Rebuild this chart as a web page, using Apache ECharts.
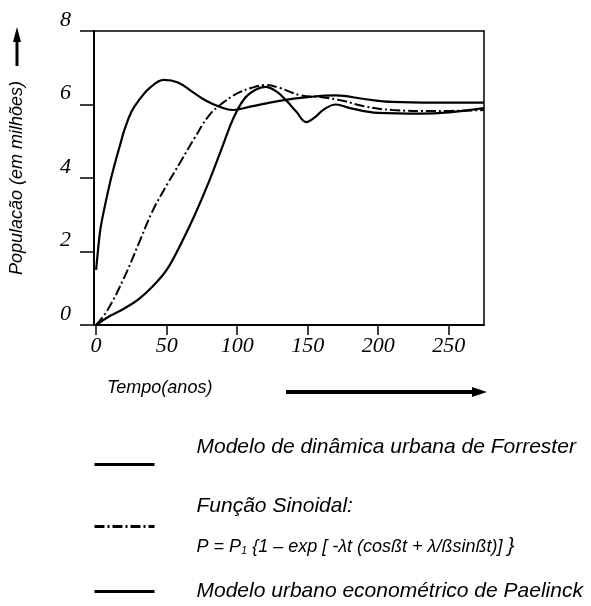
<!DOCTYPE html>
<html>
<head>
<meta charset="utf-8">
<script src="https://cdn.jsdelivr.net/npm/echarts@6/dist/echarts.min.js"></script>
<style>html,body{margin:0;padding:0;background:#fff}#c{width:591px;height:606px}</style>
</head>
<body>
<div id="c"></div>
<script>
// ---- data ----
const xTicks = [0, 50, 100, 150, 200, 250];
const yTicks = [0, 2, 4, 6, 8];

const nameForrester = 'Modelo de dinâmica urbana de Forrester';
const tForrester = [0, 1, 3, 6, 10, 13, 17, 20, 25, 30, 38, 48, 58, 68, 78, 88, 97, 110, 130, 150, 170, 190, 210, 240, 275];
const vForrester = [1.5, 1.9, 2.6, 3.2, 3.9, 4.35, 4.9, 5.3, 5.8, 6.1, 6.45, 6.67, 6.6, 6.35, 6.1, 5.93, 5.85, 5.95, 6.1, 6.2, 6.25, 6.15, 6.07, 6.05, 6.05];

const nameSinoidal = 'Função Sinoidal:';
const formulaHead = 'P = P';
const formulaSub = '1';
const formulaTail = ' {1 – exp [ -λt (cosßt + λ/ßsinßt)] }';
const tSinoidal = [0, 8, 20, 30, 40, 50, 60, 70, 80, 90, 100, 110, 120, 130, 145, 160, 175, 190, 210, 240, 275];
const vSinoidal = [0, 0.4, 1.3, 2.2, 3.1, 3.8, 4.45, 5.1, 5.7, 6.05, 6.3, 6.45, 6.53, 6.45, 6.25, 6.2, 6.1, 5.95, 5.85, 5.82, 5.85];

const namePaelinck = 'Modelo urbano econométrico de Paelinck';
const tPaelinck = [0, 10, 20, 30, 40, 50, 60, 70, 80, 90, 97, 105, 113, 120, 128, 135, 142, 149, 155, 162, 170, 180, 200, 230, 275];
const vPaelinck = [0, 0.25, 0.45, 0.7, 1.05, 1.5, 2.2, 3.0, 3.9, 4.9, 5.6, 6.15, 6.4, 6.48, 6.35, 6.1, 5.8, 5.52, 5.65, 5.88, 6.0, 5.9, 5.77, 5.75, 5.9];

const zip = (a, b) => a.map((x, i) => [x, b[i]]);

const serifIt = {fontFamily: 'Liberation Serif', fontStyle: 'italic', fontSize: 22, color: '#000'};
const sansIt = {fontFamily: 'Liberation Sans', fontStyle: 'italic', color: '#000'};
const legTxt = (o) => Object.assign({fontStyle: 'italic', fontFamily: 'Liberation Sans', color: '#000'}, o);

const chart = echarts.init(document.getElementById('c'), null, {renderer: 'canvas'});

function legendBase(name, top, fmt, rich) {
  return {
    data: [name], left: 93, top: top, padding: 0, itemGap: 0,
    itemWidth: 60, itemHeight: 14, selectedMode: false,
    itemStyle: {opacity: 0},
    lineStyle: {width: 3, color: '#000'},
    formatter: fmt,
    textStyle: Object.assign({}, sansIt, {fontSize: 21, rich: rich})
  };
}

const option = {
  animation: false,
  backgroundColor: '#fff',
  grid: {left: 93, top: 31, right: 107, bottom: 281, containLabel: false},
  xAxis: [{
    type: 'value', min: -1.5, max: 275, position: 'bottom',
    splitLine: {show: false},
    axisLine: {show: true, onZero: false, lineStyle: {color: '#000', width: 2}},
    axisTick: {show: true, inside: false, length: 10, customValues: xTicks, lineStyle: {color: '#000', width: 1.5}},
    axisLabel: Object.assign({}, serifIt, {customValues: xTicks, margin: 10})
  }, {
    type: 'value', min: -1.5, max: 275, position: 'top',
    splitLine: {show: false},
    axisLine: {show: true, onZero: false, lineStyle: {color: '#000', width: 1.5}},
    axisTick: {show: false}, axisLabel: {show: false}
  }],
  yAxis: [{
    type: 'value', min: 0, max: 8, interval: 2, position: 'left',
    name: 'Populacão (em milhões)', nameLocation: 'middle', nameGap: 68, nameRotate: 90,
    nameTextStyle: Object.assign({}, sansIt, {fontSize: 18}),
    splitLine: {show: false},
    axisLine: {show: true, onZero: false, lineStyle: {color: '#000', width: 2}},
    axisTick: {show: true, inside: false, length: 14, lineStyle: {color: '#000', width: 1.5}},
    axisLabel: Object.assign({}, serifIt, {margin: 23, verticalAlign: 'bottom', lineHeight: 22, padding: [0, 0, 0, 0]})
  }, {
    type: 'value', min: 0, max: 8, position: 'right',
    splitLine: {show: false},
    axisLine: {show: true, onZero: false, lineStyle: {color: '#000', width: 1.5}},
    axisTick: {show: false}, axisLabel: {show: false}
  }],
  legend: [
    legendBase(nameForrester, 437, n => '{t|' + n + '}', {t: legTxt({fontSize: 21, padding: [0, 0, 34, 37]})}),
    legendBase(nameSinoidal, 496, n => '{t|' + n + '}\n{h|' + formulaHead + '}{s|' + formulaSub + '}{f|' + formulaTail + '}', {
      t: legTxt({fontSize: 21, lineHeight: 40, padding: [0, 0, 0, 37]}),
      h: legTxt({fontSize: 18, lineHeight: 40, padding: [0, 0, 0, 37]}),
      f: legTxt({fontSize: 18, lineHeight: 40}),
      s: legTxt({fontSize: 11, lineHeight: 40, padding: [9, 0, 0, 0]})
    }),
    legendBase(namePaelinck, 581, n => '{t|' + n + '}', {t: legTxt({fontSize: 21, padding: [0, 0, 0, 37]})})
  ],
  series: [{
    name: nameForrester, type: 'line', data: zip(tForrester, vForrester),
    symbol: 'none', smooth: 0.4, clip: true,
    lineStyle: {color: '#000', width: 2.2}, itemStyle: {color: '#000'}
  }, {
    name: nameSinoidal, type: 'line', data: zip(tSinoidal, vSinoidal),
    symbol: 'none', smooth: 0.4, clip: true,
    lineStyle: {color: '#000', width: 2, type: [10, 3, 2, 3]}, itemStyle: {color: '#000'}
  }, {
    name: namePaelinck, type: 'line', data: zip(tPaelinck, vPaelinck),
    symbol: 'none', smooth: 0.4, clip: true,
    lineStyle: {color: '#000', width: 2.2}, itemStyle: {color: '#000'}
  }],
  graphic: [
    // y-axis arrow
    {type: 'line', shape: {x1: 17, y1: 40, x2: 17, y2: 66}, style: {stroke: '#000', lineWidth: 3}},
    {type: 'polygon', shape: {points: [[17, 27], [13, 42], [21, 42]]}, style: {fill: '#000'}},
    // x-axis name and arrow
    {type: 'text', left: 107, top: 379, style: {text: 'Tempo(anos)', font: 'italic 18px "Liberation Sans"', fill: '#000'}},
    {type: 'line', shape: {x1: 286, y1: 392, x2: 476, y2: 392}, style: {stroke: '#000', lineWidth: 4}},
    {type: 'polygon', shape: {points: [[487, 392], [472, 387], [472, 397]]}, style: {fill: '#000'}}
  ]
};
chart.setOption(option);
</script>
</body>
</html>
